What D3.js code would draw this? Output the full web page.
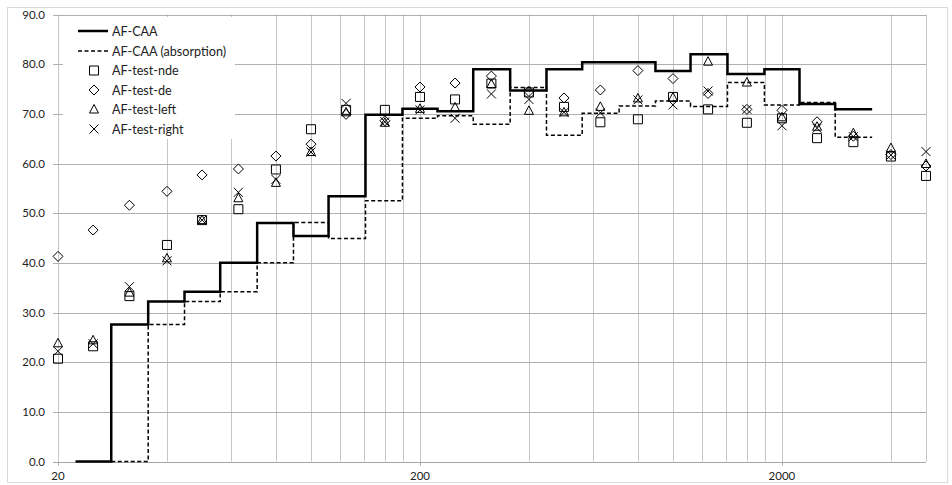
<!DOCTYPE html>
<html>
<head>
<meta charset="utf-8">
<script src="https://cdnjs.cloudflare.com/ajax/libs/d3/7.8.5/d3.min.js"></script>
<style>
  body { margin: 0; background: #fff; }
  svg text { font-family: Lato, "Liberation Sans", sans-serif; fill: #222; }
</style>
</head>
<body>
<div id="demo"></div>
<script>
// third-octave band centres (Hz)
let freqs = [20, 25, 31.5, 40, 50, 63, 80, 100, 125, 160, 200, 250, 315, 400, 500, 630, 800, 1000, 1250, 1600, 2000, 2500, 3150, 4000, 5000];

// step series: one value per band
let caaBands = [25, 31.5, 40, 50, 63, 80, 100, 125, 160, 200, 250, 315, 400, 500, 630, 800, 1000, 1250, 1600, 2000, 2500, 3150];
let caa = [0, 27.6, 32.2, 34.2, 40.0, 48.0, 45.4, 53.4, 69.8, 71.0, 70.5, 79.0, 74.7, 79.0, 80.4, 80.4, 78.6, 82.0, 78.0, 79.0, 72.0, 70.9];
let absBands = [31.5, 40, 50, 63, 80, 100, 125, 160, 200, 250, 315, 400, 500, 630, 800, 1000, 1250, 1600, 2000, 2500, 3150];
let caaAbs = [0, 27.6, 32.2, 34.2, 40.0, 48.1, 44.9, 52.5, 69.1, 69.6, 67.9, 75.3, 65.7, 70.1, 71.6, 72.6, 71.5, 76.3, 71.8, 72.3, 65.3];

// measured points
let testNde = [20.7, 23.2, 33.3, 43.6, 48.6, 50.8, 58.8, 66.9, 70.8, 70.8, 73.4, 72.9, 76.1, 74.3, 71.4, 68.3, 68.9, 73.4, 70.9, 68.2, 69.1, 65.1, 64.3, 61.4, 57.5];
let testDe = [41.3, 46.6, 51.6, 54.4, 57.7, 58.9, 61.5, 63.9, 69.9, 68.6, 75.4, 76.2, 77.6, 74.5, 73.2, 74.8, 78.7, 77.1, 74.1, 70.9, 70.7, 68.4, 65.5, 61.8, 59.5];
let testLeft = [23.8, 24.4, 34.0, 40.9, 48.6, 53.0, 56.1, 62.3, 70.3, 68.2, 71.0, 71.3, 76.0, 70.6, 70.3, 71.4, 73.1, 73.3, 80.5, 76.3, 69.3, 67.4, 66.1, 63.1, 59.9];
let testRight = [22.2, 23.7, 35.2, 40.4, 48.6, 54.2, 56.8, 62.3, 72.1, 68.4, 70.8, 69.1, 74.0, 72.9, 70.3, 70.2, 72.8, 71.8, 74.6, 70.9, 67.6, 67.1, 65.4, 61.7, 62.4];

let yTicks = [0, 10, 20, 30, 40, 50, 60, 70, 80, 90];
let xLabels = [20, 200, 2000];
let xGrid = [20, 40, 60, 80, 100, 120, 140, 160, 180, 200, 400, 600, 800, 1000, 1200, 1400, 1600, 1800, 2000, 4000];

let w = 952;
let h = 485;
let m = {top: 14.5, right: 26, bottom: 23.5, left: 58};

let svg = d3.select("#demo")
    .append("svg")
    .attr("width", w)
    .attr("height", h);

// chart border
svg.append("rect")
    .attr("x", 7.5).attr("y", 7.5)
    .attr("width", 940).attr("height", 475)
    .attr("fill", "none")
    .attr("stroke", "#d9d9d9");

let x = d3.scaleLog().domain([20, 5000]).range([m.left, w - m.right]);
let y = d3.scaleLinear().domain([0, 90]).range([h - m.bottom, m.top]);

// gridlines
svg.append("g")
    .selectAll("line")
    .data(xGrid)
    .enter()
    .append("line")
    .attr("x1", (d) => Math.round(x(d)) + 0.5)
    .attr("x2", (d) => Math.round(x(d)) + 0.5)
    .attr("y1", y(90))
    .attr("y2", y(0))
    .attr("stroke", "#c6c6c6");

svg.append("line")
    .attr("x1", Math.round(x(5000)) + 0.5).attr("x2", Math.round(x(5000)) + 0.5)
    .attr("y1", y(90)).attr("y2", y(0))
    .attr("stroke", "#c6c6c6");

svg.append("g")
    .selectAll("line")
    .data(yTicks)
    .enter()
    .append("line")
    .attr("x1", m.left - 5)
    .attr("x2", w - m.right)
    .attr("y1", (d) => Math.round(y(d)) + 0.5)
    .attr("y2", (d) => Math.round(y(d)) + 0.5)
    .attr("stroke", (d) => d === 0 ? "#a6a6a6" : "#b0b0b0");

// axis tick labels
svg.append("g")
    .selectAll("text")
    .data(yTicks)
    .enter()
    .append("text")
    .attr("x", 45)
    .attr("y", (d) => y(d) + 4)
    .attr("text-anchor", "end")
    .attr("font-size", "11.5px")
    .text((d) => d3.format(".1f")(d));

svg.append("g")
    .selectAll("line")
    .data(xLabels)
    .enter()
    .append("line")
    .attr("x1", (d) => Math.round(x(d)) + 0.5)
    .attr("x2", (d) => Math.round(x(d)) + 0.5)
    .attr("y1", y(0))
    .attr("y2", y(0) + 4)
    .attr("stroke", "#a6a6a6");

svg.append("g")
    .selectAll("text")
    .data(xLabels)
    .enter()
    .append("text")
    .attr("x", (d) => x(d))
    .attr("y", y(0) + 18)
    .attr("text-anchor", "middle")
    .attr("font-size", "11.5px")
    .text((d) => d);

// band step lines
const edge = (i, bands) => {
    // geometric mean between neighbouring nominal centres
    let f = bands[i];
    let k = freqs.indexOf(f);
    let lo = k > 0 ? Math.sqrt(freqs[k - 1] * f) : f / Math.pow(2, 1 / 6);
    let hi = k < freqs.length - 1 ? Math.sqrt(freqs[k + 1] * f) : f * Math.pow(2, 1 / 6);
    return [lo, hi];
};

const stepPoints = (bands, vals) => {
    let pts = [];
    bands.forEach((f, i) => {
        let e = edge(i, bands);
        pts.push([e[0], vals[i]]);
        pts.push([e[1], vals[i]]);
    });
    return pts;
};

let line = d3.line()
    .x((d) => x(d[0]))
    .y((d) => y(d[1]));

svg.append("path")
    .datum(stepPoints(absBands, caaAbs))
    .attr("d", line)
    .attr("fill", "none")
    .attr("stroke", "#000")
    .attr("stroke-width", 1.5)
    .attr("stroke-dasharray", "4,2.5");

svg.append("path")
    .datum(stepPoints(caaBands, caa))
    .attr("d", line)
    .attr("fill", "none")
    .attr("stroke", "#000")
    .attr("stroke-width", 2.5);

// marker shapes
const markerPath = {
    square: (cx, cy) => "M" + (cx - 4.5) + "," + (cy - 4.5) + "h9v9h-9Z",
    diamond: (cx, cy) => "M" + cx + "," + (cy - 5) + "l5,5l-5,5l-5,-5Z",
    triangle: (cx, cy) => "M" + cx + "," + (cy - 5) + "l4.5,8.5h-9Z",
    cross: (cx, cy) => "M" + (cx - 4.5) + "," + (cy - 4.5) + "l9,9M" + (cx + 4.5) + "," + (cy - 4.5) + "l-9,9"
};

let series = [
    {name: "AF-test-nde", vals: testNde, shape: "square"},
    {name: "AF-test-de", vals: testDe, shape: "diamond"},
    {name: "AF-test-left", vals: testLeft, shape: "triangle"},
    {name: "AF-test-right", vals: testRight, shape: "cross"}
];

series.forEach((s) => {
    svg.append("g")
        .selectAll("path")
        .data(s.vals)
        .enter()
        .append("path")
        .attr("d", (d, i) => markerPath[s.shape](x(freqs[i]), y(d)))
        .attr("fill", "none")
        .attr("stroke", "#000")
        .attr("stroke-width", 1);
});

// legend
let legend = svg.append("g");

legend.append("rect")
    .attr("x", 63).attr("y", 17)
    .attr("width", 172).attr("height", 122)
    .attr("fill", "#fff");

let lY = [31, 51, 70.5, 90, 109.5, 129];
let lItems = ["AF-CAA", "AF-CAA (absorption)"].concat(series.map((s) => s.name));

legend.append("line")
    .attr("x1", 78).attr("x2", 108).attr("y1", lY[0]).attr("y2", lY[0])
    .attr("stroke", "#000").attr("stroke-width", 2.5);
legend.append("line")
    .attr("x1", 78).attr("x2", 108).attr("y1", lY[1]).attr("y2", lY[1])
    .attr("stroke", "#000").attr("stroke-width", 1.5).attr("stroke-dasharray", "4,2.5");

series.forEach((s, i) => {
    legend.append("path")
        .attr("d", markerPath[s.shape](94, lY[i + 2]))
        .attr("fill", "none")
        .attr("stroke", "#000");
});

legend.selectAll("text")
    .data(lItems)
    .enter()
    .append("text")
    .attr("x", 112)
    .attr("y", (d, i) => lY[i] + 4.5)
    .attr("font-size", "12.6px")
    .text((d) => d);
</script>
</body>
</html>
